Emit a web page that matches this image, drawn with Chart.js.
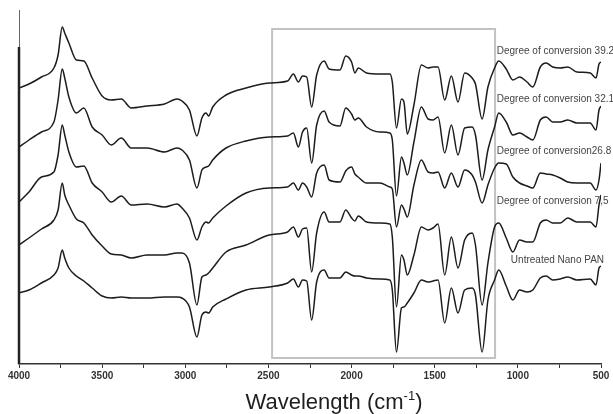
<!DOCTYPE html>
<html>
<head>
<meta charset="utf-8">
<script src="https://cdn.jsdelivr.net/npm/chart.js@4.4.1/dist/chart.umd.min.js"></script>
<style>
  html, body { margin: 0; padding: 0; background: #fff; }
</style>
</head>
<body>
<canvas id="ftirChart" width="613" height="414"></canvas>
<script>
// wavenumbers (cm-1) shared by every spectrum
const wavenumbers = [4000, 3940, 3865, 3790, 3765, 3740, 3725, 3700, 3655, 3610,
    3560, 3500, 3445, 3385, 3325, 3230, 3125, 3050, 3020, 2975,
    2930, 2900, 2875, 2860, 2835, 2755, 2635, 2495, 2385, 2350,
    2320, 2295, 2270, 2240, 2210, 2165, 2135, 2070, 2035, 2000,
    1980, 1960, 1910, 1830, 1770, 1755, 1730, 1700, 1685, 1665,
    1625, 1580, 1540, 1510, 1480, 1440, 1400, 1360, 1320, 1275,
    1255, 1215, 1180, 1140, 1115, 1070, 1030, 990, 945, 910,
    865, 830, 790, 745, 700, 645, 565, 530, 512, 500];

// stacked transmittance (arbitrary units, offset per sample)
const conv392 = [276, 280, 287, 296, 309, 337, 331, 321, 304, 303,
    286, 268, 264, 265, 256, 258, 260, 265, 263, 254,
    228, 246, 251, 248, 257, 269, 276, 281, 283, 290,
    282, 288, 287, 257, 289, 303, 295, 294, 308, 302,
    291, 296, 291, 290, 290, 282, 236, 265, 262, 230,
    259, 299, 296, 297, 297, 264, 288, 262, 291, 286,
    280, 245, 277, 296, 303, 295, 284, 287, 282, 277,
    297, 301, 297, 296, 297, 292, 291, 286, 300, 302];

const conv321 = [217, 224, 232, 242, 264, 295, 286, 267, 251, 256,
    237, 229, 219, 226, 216, 216, 212, 216, 214, 204,
    176, 194, 197, 198, 204, 216, 223, 227, 228, 231,
    217, 232, 236, 201, 239, 253, 242, 238, 256, 250,
    244, 246, 237, 232, 231, 224, 168, 207, 201, 189,
    222, 257, 245, 244, 247, 211, 239, 209, 236, 237,
    229, 184, 214, 237, 251, 242, 229, 231, 227, 224,
    244, 247, 242, 242, 244, 241, 241, 234, 254, 258];

const conv268 = [162, 172, 187, 192, 209, 239, 229, 212, 197, 198,
    181, 172, 162, 168, 159, 160, 157, 160, 156, 146,
    124, 137, 142, 141, 146, 158, 171, 176, 177, 181,
    174, 181, 177, 167, 191, 199, 184, 182, 193, 197,
    190, 187, 181, 181, 177, 175, 137, 159, 155, 147,
    179, 204, 192, 191, 192, 176, 191, 177, 194, 189,
    182, 161, 179, 196, 201, 200, 187, 181, 178, 176,
    191, 190, 189, 186, 182, 181, 181, 174, 184, 201];

const conv75 = [119, 126, 135, 144, 154, 181, 169, 159, 145, 141,
    129, 118, 110, 109, 106, 109, 109, 111, 111, 101,
    59, 87, 89, 91, 96, 112, 119, 129, 132, 137,
    127, 135, 136, 92, 131, 152, 142, 142, 154, 146,
    143, 148, 142, 141, 140, 127, 57, 109, 104, 89,
    109, 137, 134, 136, 140, 89, 127, 96, 124, 131,
    119, 59, 101, 137, 141, 126, 112, 124, 122, 122,
    141, 144, 141, 141, 146, 142, 142, 137, 159, 169];

const untreated = [71, 74, 81, 89, 96, 114, 106, 96, 88, 83,
    76, 68, 66, 67, 66, 66, 67, 67, 66, 57,
    27, 49, 52, 51, 57, 65, 74, 77, 81, 85,
    77, 84, 83, 44, 82, 94, 86, 86, 92, 89,
    88, 88, 86, 85, 84, 74, 12, 56, 57, 61,
    71, 84, 82, 83, 84, 41, 76, 51, 74, 76,
    69, 12, 64, 84, 94, 78, 64, 74, 72, 74,
    86, 88, 84, 85, 87, 84, 85, 79, 96, 98];

const seriesNames = ['Degree of conversion 39.2', 'Degree of conversion 32.1',
    'Degree of conversion26.8', 'Degree of conversion 7,5', 'Untreated Nano PAN'];
const seriesValues = [conv392, conv321, conv268, conv75, untreated];

// highlighted region (cm-1)
const boxRange = [2478, 1137];

// Plugin para desenhar a caixa, os rótulos e o título do eixo
const extrasPlugin = {
    id: 'extras',
    beforeDatasetsDraw(chart) {
        const { ctx, scales: { x, y } } = chart;
        const x1 = x.getPixelForValue(boxRange[0]);
        const x2 = x.getPixelForValue(boxRange[1]);
        const yTop = y.getPixelForValue(335);
        const yBot = y.getPixelForValue(6);
        ctx.save();
        ctx.strokeStyle = '#c2c2c2';
        ctx.lineWidth = 2;
        ctx.strokeRect(x1, yTop, x2 - x1, yBot - yTop);
        ctx.restore();
    },
    afterDraw(chart) {
        const { ctx, chartArea, scales: { x, y } } = chart;
        ctx.save();
        // thicker part of the left axis
        ctx.strokeStyle = '#222';
        ctx.lineWidth = 2.5;
        ctx.beginPath();
        ctx.moveTo(chartArea.left, y.getPixelForValue(317));
        ctx.lineTo(chartArea.left, chartArea.bottom);
        ctx.stroke();

        // sample labels
        const labelX = [1127, 1127, 1127, 1127, 1042];
        const labelY = [313, 265, 213, 163, 104];
        ctx.fillStyle = '#444';
        ctx.font = '10px "Liberation Sans", Arial, sans-serif';
        ctx.textBaseline = 'middle';
        ctx.textAlign = 'left';
        seriesNames.forEach((name, i) => {
            ctx.fillText(name, x.getPixelForValue(labelX[i]), y.getPixelForValue(labelY[i]));
        });

        // axis title with superscript
        ctx.fillStyle = '#1e1e1e';
        ctx.textBaseline = 'alphabetic';
        const big = '22px "Liberation Sans", Arial, sans-serif';
        const small = '13px "Liberation Sans", Arial, sans-serif';
        ctx.font = big;
        const w1 = ctx.measureText('Wavelength (cm').width;
        const w3 = ctx.measureText(')').width;
        ctx.font = small;
        const w2 = ctx.measureText('-1').width;
        let tx = 334 - (w1 + w2 + w3) / 2;
        const base = 409;
        ctx.font = big;
        ctx.fillText('Wavelength (cm', tx, base);
        tx += w1;
        ctx.font = small;
        ctx.fillText('-1', tx, base - 9);
        tx += w2;
        ctx.font = big;
        ctx.fillText(')', tx, base);
        ctx.restore();
    }
};

const datasets = seriesValues.map((vals, i) => ({
    label: seriesNames[i],
    data: wavenumbers.map((w, j) => ({ x: w, y: vals[j] })),
    borderColor: '#1c1c1c',
    borderWidth: 1.5,
    pointRadius: 0,
    fill: false,
    cubicInterpolationMode: 'monotone'
}));

new Chart(document.getElementById('ftirChart').getContext('2d'), {
    type: 'line',
    data: { datasets: datasets },
    options: {
        responsive: false,
        animation: false,
        layout: { padding: { left: 19, right: 12, top: 10, bottom: 0 } },
        plugins: {
            legend: { display: false },
            tooltip: { enabled: false }
        },
        scales: {
            x: {
                type: 'linear',
                reverse: true,
                min: 500,
                max: 4000,
                afterFit(scale) { scale.height = 50; },
                border: { display: true, color: '#333', width: 1.5 },
                grid: { drawOnChartArea: false, drawTicks: true, tickLength: 4, color: '#333' },
                ticks: {
                    stepSize: 250,
                    autoSkip: false,
                    maxRotation: 0,
                    padding: 2,
                    color: '#333',
                    font: { family: '"Liberation Sans", Arial, sans-serif', size: 10, weight: 'bold' },
                    callback: (v) => (v % 500 === 0 ? String(v) : '')
                }
            },
            y: {
                min: 0,
                max: 354,
                afterFit(scale) { scale.width = 0; },
                border: { display: true, color: '#666', width: 1 },
                grid: { display: false },
                ticks: { display: false }
            }
        }
    },
    plugins: [extrasPlugin]
});
</script>
</body>
</html>
